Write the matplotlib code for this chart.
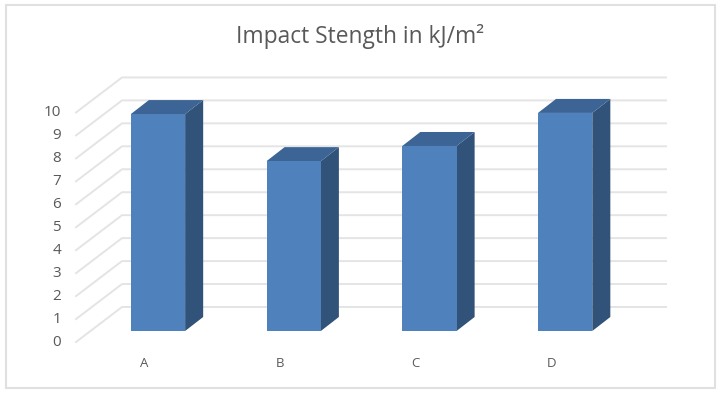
import matplotlib
matplotlib.use("Agg")
import matplotlib.pyplot as plt
from matplotlib.patches import Polygon, Rectangle

categories = ["A", "B", "C", "D"]
values = [9.45, 7.4, 8.06, 9.5]
y_ticks = [0, 1, 2, 3, 4, 5, 6, 7, 8, 9, 10]

plt.rcParams["font.family"] = ["Open Sans", "DejaVu Sans"]

fig = plt.figure(figsize=(7.2, 3.94), dpi=100, facecolor="white")
ax = fig.add_axes([0, 0, 1, 1])
ax.set_xlim(-1.164, 4.141)
ax.set_ylim(-2.745, 14.42)
ax.axis("off")

# outer chart frame
fig.add_artist(Rectangle((6 / 720, 1 - 388 / 394), 709 / 720, 383 / 394, transform=fig.transFigure,
                         fill=False, edgecolor="#e0e0e0", linewidth=1.5))

# depth of the fake 3d box
bar_width = 0.4
depth_x = 0.133
depth_y = 0.61
grid_left = -0.604
grid_mid = -0.265
grid_right = 3.743
grid_low = -0.48
grid_back = 1.046

for t in y_ticks:
    ax.plot([grid_left, grid_mid, grid_right], [t + grid_low, t + grid_back, t + grid_back],
            color="#e4e4e4", linewidth=1.4, zorder=1)
    ax.text(-0.715, t + grid_low, str(t), ha="right", va="center", fontsize=11, color="#595959")

for i, (name, v) in enumerate(zip(categories, values)):
    left = i - bar_width / 2
    right = i + bar_width / 2
    # side, top, then front face
    ax.add_patch(Polygon([(right, 0), (right + depth_x, depth_y), (right + depth_x, v + depth_y), (right, v)],
                         facecolor="#315379", edgecolor="none", zorder=2))
    ax.add_patch(Polygon([(left, v), (left + depth_x, v + depth_y), (right + depth_x, v + depth_y), (right, v)],
                         facecolor="#3c6494", edgecolor="none", zorder=2))
    ax.add_patch(Polygon([(left, 0), (right, 0), (right, v), (left, v)],
                         facecolor="#4f81bd", edgecolor="none", zorder=3))
    ax.text(i - 0.103, -1.43, name, ha="center", va="center", fontsize=9.5, color="#595959")

fig.text(360 / 720, 1 - 36.5 / 394, "Impact Stength in kJ/m²", ha="center", va="center",
         fontsize=16.4, color="#595959")

fig.savefig("out.png", dpi=100)
